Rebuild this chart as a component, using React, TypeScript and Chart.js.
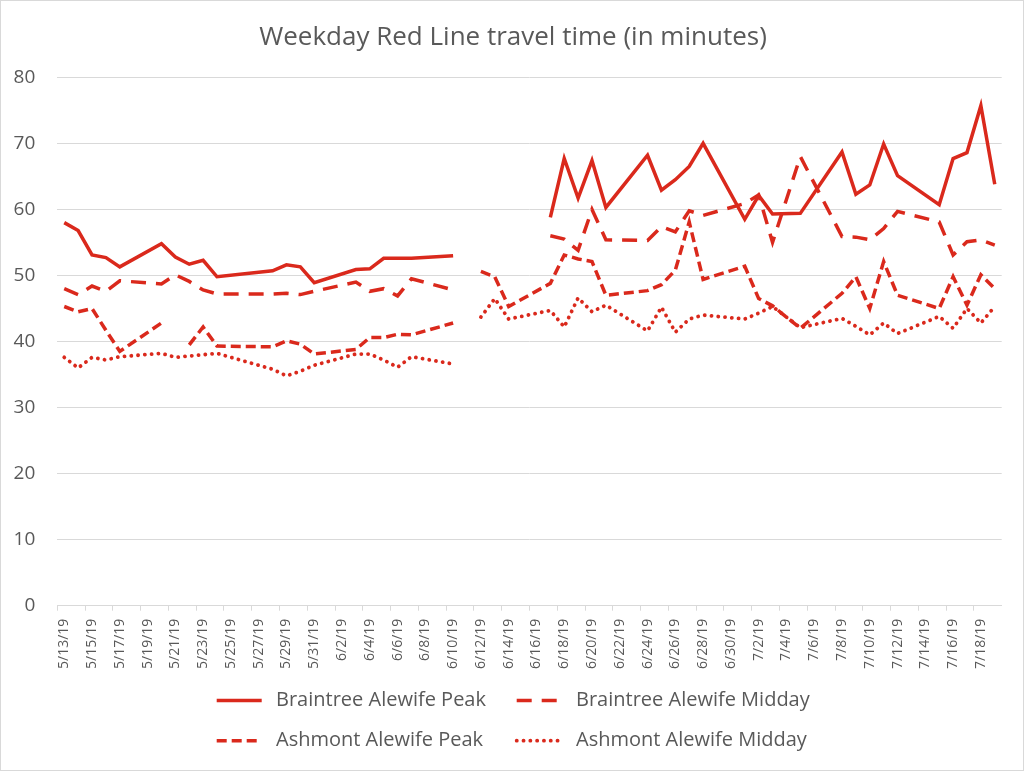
import React, { useEffect, useRef } from 'react';
import { Chart, registerables } from 'chart.js';

Chart.register(...registerables);

const TITLE = 'Weekday Red Line travel time (in minutes)';

// every calendar day shown on the axis (category labels)
const axisDates = [
  '5/13/19', '5/14/19', '5/15/19', '5/16/19', '5/17/19', '5/18/19', '5/19/19', '5/20/19', '5/21/19', '5/22/19',
  '5/23/19', '5/24/19', '5/25/19', '5/26/19', '5/27/19', '5/28/19', '5/29/19', '5/30/19', '5/31/19',
  '6/1/19', '6/2/19', '6/3/19', '6/4/19', '6/5/19', '6/6/19', '6/7/19', '6/8/19', '6/9/19', '6/10/19',
  '6/11/19', '6/12/19', '6/13/19', '6/14/19', '6/15/19', '6/16/19', '6/17/19', '6/18/19', '6/19/19', '6/20/19',
  '6/21/19', '6/22/19', '6/23/19', '6/24/19', '6/25/19', '6/26/19', '6/27/19', '6/28/19', '6/29/19', '6/30/19',
  '7/1/19', '7/2/19', '7/3/19', '7/4/19', '7/5/19', '7/6/19', '7/7/19', '7/8/19', '7/9/19', '7/10/19',
  '7/11/19', '7/12/19', '7/13/19', '7/14/19', '7/15/19', '7/16/19', '7/17/19', '7/18/19', '7/19/19',
];

// service days that have a row in the data
const serviceDays = [
  '5/13/19', '5/14/19', '5/15/19', '5/16/19', '5/17/19',
  '5/20/19', '5/21/19', '5/22/19', '5/23/19', '5/24/19',
  '5/28/19', '5/29/19', '5/30/19', '5/31/19',
  '6/3/19', '6/4/19', '6/5/19', '6/6/19', '6/7/19',
  '6/10/19', '6/11/19', '6/12/19', '6/13/19', '6/14/19',
  '6/17/19', '6/18/19', '6/19/19', '6/20/19', '6/21/19',
  '6/24/19', '6/25/19', '6/26/19', '6/27/19', '6/28/19',
  '7/1/19', '7/2/19', '7/3/19', '7/5/19',
  '7/8/19', '7/9/19', '7/10/19', '7/11/19', '7/12/19',
  '7/15/19', '7/16/19', '7/17/19', '7/18/19', '7/19/19',
];

const braintreePeak = [
  58.0, 56.8, 53.1, 52.7, 51.3,
  54.8, 52.8, 51.7, 52.3, 49.8,
  50.7, 51.6, 51.3, 48.9,
  50.9, 51.0, 52.6, 52.6, 52.6,
  53.0, null, null, null, null,
  58.8, 67.7, 61.7, 67.4, 60.3,
  68.2, 62.9, 64.5, 66.5, 70.0,
  58.5, 62.1, 59.3, 59.4,
  68.7, 62.3, 63.7, 69.9, 65.1,
  60.7, 67.7, 68.6, 75.7, 63.8,
];

const braintreeMidday = [
  48.0, 47.1, 48.4, 47.6, 49.2,
  48.7, 50.1, 49.1, 47.8, 47.2,
  47.2, 47.3, 47.1, 47.6,
  49.0, 47.6, 48.0, 46.9, 49.5,
  47.8, null, null, null, null,
  56.0, 55.5, 53.8, 60.0, 55.4,
  55.3, 57.4, 56.6, 59.8, 59.1,
  60.9, 62.2, 55.0, 68.0,
  55.9, 55.8, 55.4, 57.1, 59.7,
  58.1, 53.1, 55.1, 55.4, 54.6,
];

const ashmontPeak = [
  45.3, 44.5, 45.0, 41.7, 38.5,
  42.8, null, 39.5, 42.2, 39.3,
  39.2, 40.1, 39.6, 38.1,
  38.8, 40.6, 40.6, 41.1, 41.0,
  42.8, null, 50.6, 49.8, 45.3,
  48.8, 53.1, 52.5, 52.1, 47.0,
  47.7, 48.6, 50.8, 58.1, 49.4,
  51.4, 46.5, 45.4, 42.0,
  47.3, 49.8, 45.0, 52.1, 47.0,
  45.0, 49.8, 45.5, 50.1, 48.0,
];

const ashmontMidday = [
  37.6, 36.0, 37.6, 37.2, 37.7,
  38.2, 37.6, 37.8, 38.0, 38.2,
  35.8, 34.8, 35.5, 36.4,
  38.1, 38.1, 37.2, 36.1, 37.7,
  36.6, null, 43.7, 46.5, 43.4,
  44.7, 42.2, 46.6, 44.5, 45.5,
  41.6, 45.2, 41.4, 43.4, 44.0,
  43.4, 44.3, 45.3, 42.1,
  43.5, 42.3, 41.0, 42.8, 41.2,
  43.8, 42.0, 45.0, 42.8, 45.3,
];

const seriesNames = [
  'Braintree Alewife Peak',
  'Braintree Alewife Midday',
  'Ashmont Alewife Peak',
  'Ashmont Alewife Midday',
];

const RED = '#DA291C';
const GRID = '#D9D9D9';
const TEXT = '#595959';
const FONT = '"Open Sans", "Noto Sans", "DejaVu Sans", sans-serif';
const NARROW = '"Liberation Sans Narrow", "Open Sans", sans-serif';

const toPoints = (values: (number | null)[]) =>
  serviceDays.map((d, i) => ({ x: d, y: values[i] }));

const decorPlugin = {
  id: 'decor',
  beforeDraw(chart: any) {
    const { ctx, width, height } = chart;
    ctx.save();
    ctx.fillStyle = '#ffffff';
    ctx.fillRect(0, 0, width, height);
    ctx.strokeStyle = GRID;
    ctx.lineWidth = 1;
    ctx.strokeRect(0.5, 0.5, width - 1, height - 1);
    ctx.restore();
  },
  afterDraw(chart: any) {
    const { ctx } = chart;
    ctx.save();
    ctx.fillStyle = TEXT;
    ctx.font = `26px ${FONT}`;
    ctx.textAlign = 'center';
    ctx.textBaseline = 'middle';
    ctx.fillText(TITLE, 513, 38);

    const colX = [216.7, 516.7];
    const rowY = [700.5, 740.7];
    chart.data.datasets.forEach((ds: any, i: number) => {
      const x0 = colX[i % 2];
      const y0 = rowY[Math.floor(i / 2)];
      ctx.save();
      ctx.strokeStyle = ds.borderColor;
      ctx.lineWidth = ds.borderWidth;
      ctx.lineCap = ds.borderCapStyle || 'butt';
      ctx.setLineDash(ds.borderDash || []);
      ctx.beginPath();
      ctx.moveTo(x0, y0);
      ctx.lineTo(x0 + 45, y0);
      ctx.stroke();
      ctx.restore();
      ctx.fillStyle = TEXT;
      ctx.font = `20px ${FONT}`;
      ctx.textAlign = 'left';
      ctx.textBaseline = 'middle';
      ctx.fillText(ds.label, x0 + 59.3, y0);
    });
    ctx.restore();
  },
};

export default function App() {
  const canvasRef = useRef<HTMLCanvasElement | null>(null);

  useEffect(() => {
    if (!canvasRef.current) return;
    const base = {
      borderColor: RED,
      borderWidth: 3.5,
      pointRadius: 0,
      pointHoverRadius: 0,
      fill: false,
      tension: 0,
      spanGaps: false,
    };
    const chart = new Chart(canvasRef.current, {
      type: 'line',
      data: {
        labels: axisDates,
        datasets: [
          { ...base, label: seriesNames[0], data: toPoints(braintreePeak), borderDash: [] },
          { ...base, label: seriesNames[1], data: toPoints(braintreeMidday), borderDash: [15, 10] },
          { ...base, label: seriesNames[2], data: toPoints(ashmontPeak), borderDash: [10, 5] },
          { ...base, label: seriesNames[3], data: toPoints(ashmontMidday), borderDash: [0.1, 6.7], borderCapStyle: 'round', borderWidth: 3.8 },
        ] as any,
      },
      options: {
        responsive: false,
        animation: false,
        devicePixelRatio: 1,
        layout: { padding: { left: 0, right: 22.3, top: 77.3, bottom: 80 } },
        plugins: {
          legend: { display: false },
          title: { display: false },
          tooltip: { enabled: false },
        },
        scales: {
          x: {
            type: 'category',
            offset: true,
            grid: {
              offset: true,
              drawOnChartArea: false,
              drawTicks: true,
              tickLength: 5,
              tickColor: (c: any) => (c.index % 2 === 0 ? GRID : 'rgba(0,0,0,0)'),
            },
            border: { display: true, color: GRID },
            ticks: {
              autoSkip: false,
              minRotation: 90,
              maxRotation: 90,
              padding: 8,
              color: TEXT,
              font: { family: NARROW, size: 14 },
              callback: (_v: any, i: number) => (i % 2 === 0 ? axisDates[i] : ''),
            },
            afterFit: (s: any) => { s.height = 85.3; },
          },
          y: {
            min: 0,
            max: 80,
            ticks: { stepSize: 10, padding: 22, color: TEXT, font: { family: FONT, size: 19 } },
            grid: { color: GRID, drawTicks: false },
            border: { display: false },
            afterFit: (s: any) => { s.width = 57.3; },
          },
        },
      } as any,
      plugins: [decorPlugin],
    });
    return () => chart.destroy();
  }, []);

  return (
    <div style={{ position: 'fixed', left: 0, top: 0, width: 1024, height: 771, background: '#fff' }}>
      <canvas ref={canvasRef} width={1024} height={771} />
    </div>
  );
}
